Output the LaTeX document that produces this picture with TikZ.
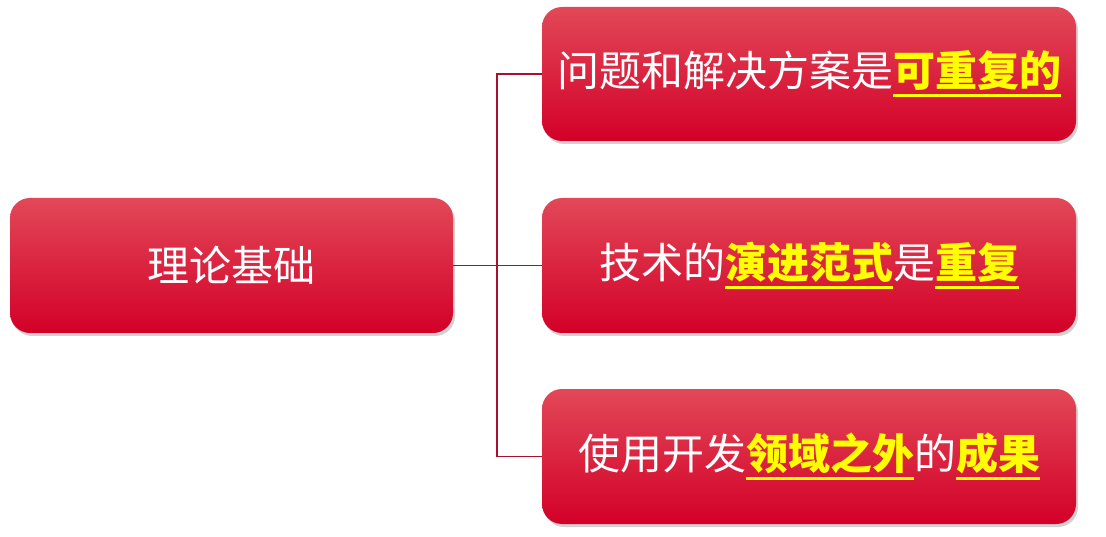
\documentclass[tikz,border=0pt]{standalone}
\usepackage{fontspec}
\newfontfamily\cjk{Noto Sans CJK SC}
\usetikzlibrary{shadows}
\definecolor{rtop}{HTML}{E24858}
\definecolor{rmid}{HTML}{E0103A}
\definecolor{rbot}{HTML}{D30028}
\definecolor{hly}{HTML}{FFFF00}
\definecolor{conncol}{HTML}{A8102E}
\newcommand\hl[1]{{\color{hly}\bfseries\setbox0\hbox{#1}\rlap{\raisebox{-10pt}{\rule{\wd0}{3pt}}}\box0}}
\tikzset{
  redbox/.style={rectangle, rounded corners=20pt, top color=rtop, middle color=rmid, bottom color=rbot, draw=none,
    drop shadow={shadow xshift=2pt, shadow yshift=-3pt, opacity=0.3, fill=black!60},
    text=white, font=\cjk\fontsize{42}{50}\selectfont, inner sep=0pt},
  conn/.style={draw=conncol, line width=1.6pt}
}
\begin{document}
\begin{tikzpicture}[x=1pt,y=-1pt]
\useasboundingbox (0,0) rectangle (1106,537);
\node[redbox, minimum width=443pt, minimum height=135pt] (L) at (231.5,265.5) {理论基础};
\node[redbox, minimum width=534pt, minimum height=134pt] (R1) at (809,74) {问题和解决方案是\hl{可重复的}};
\node[redbox, minimum width=534pt, minimum height=135pt] (R2) at (809,265.5) {技术的\hl{演进范式}是\hl{重复}};
\node[redbox, minimum width=534pt, minimum height=135pt] (R3) at (809,456.5) {使用开发\hl{领域之外}的\hl{成果}};
\coordinate (jx) at (497,265.5);
\draw[conn] (L.east) -- (R2.west);
\draw[conn] (R1.west) -- (R1.west -| jx) -- (R3.west -| jx) -- (R3.west);
\end{tikzpicture}
\end{document}
